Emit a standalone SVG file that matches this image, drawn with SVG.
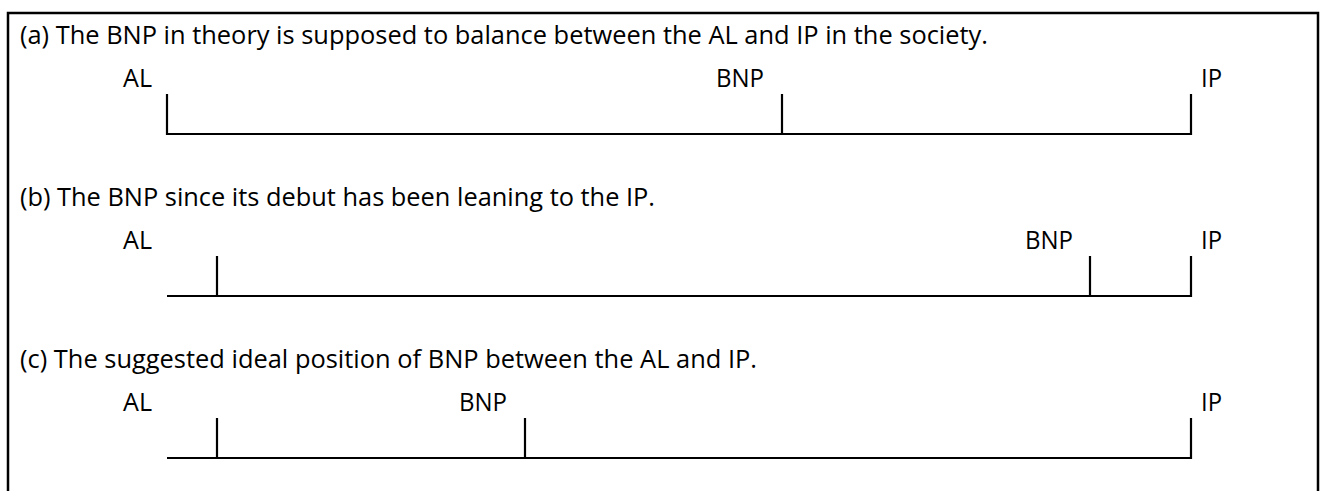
<svg xmlns="http://www.w3.org/2000/svg" width="1325" height="491" viewBox="0 0 1325 491">
  <style>
    .t { font-family: "Open Sans", "Liberation Sans", sans-serif; font-size: 26px; fill: #000; }
    .ln { stroke: #000; stroke-width: 2.2; fill: none; }
    .frame { stroke: #000; stroke-width: 2.5; fill: none; }
  </style>
  <rect width="1325" height="491" fill="#fff"/>
  <path id="frame" class="frame" d="M8,491 V13 H1318 V491"/>

  <g id="panel-a">
    <text class="t" x="20" y="44" textLength="968" lengthAdjust="spacingAndGlyphs">(a) The BNP in theory is supposed to balance between the AL and IP in the society.</text>
    <g id="a-AL"><text class="t" x="123" y="87" textLength="29" lengthAdjust="spacingAndGlyphs">AL</text></g>
    <g id="a-BNP"><text class="t" x="716" y="87" textLength="48" lengthAdjust="spacingAndGlyphs">BNP</text></g>
    <g id="a-IP"><text class="t" x="1201" y="87" textLength="21" lengthAdjust="spacingAndGlyphs">IP</text></g>
  </g>

  <g id="panel-b">
    <text class="t" x="20" y="206" textLength="635" lengthAdjust="spacingAndGlyphs">(b) The BNP since its debut has been leaning to the IP.</text>
    <g id="b-AL"><text class="t" x="123" y="249" textLength="29" lengthAdjust="spacingAndGlyphs">AL</text></g>
    <g id="b-BNP"><text class="t" x="1025" y="249" textLength="48" lengthAdjust="spacingAndGlyphs">BNP</text></g>
    <g id="b-IP"><text class="t" x="1201" y="249" textLength="21" lengthAdjust="spacingAndGlyphs">IP</text></g>
  </g>

  <g id="panel-c">
    <text class="t" x="20" y="368" textLength="737" lengthAdjust="spacingAndGlyphs">(c) The suggested ideal position of BNP between the AL and IP.</text>
    <g id="c-AL"><text class="t" x="123" y="411" textLength="29" lengthAdjust="spacingAndGlyphs">AL</text></g>
    <g id="c-BNP"><text class="t" x="459" y="411" textLength="48" lengthAdjust="spacingAndGlyphs">BNP</text></g>
    <g id="c-IP"><text class="t" x="1201" y="411" textLength="21" lengthAdjust="spacingAndGlyphs">IP</text></g>
  </g>

  <g id="connectors">
    <path class="ln" d="M167,94 V134 H1191 V94 M782,94 V134"/>
    <path class="ln" d="M167,296 H1191 V256 M217,256 V296 M1090,256 V296"/>
    <path class="ln" d="M167,458 H1191 V418 M217,418 V458 M525,418 V458"/>
  </g>
</svg>
